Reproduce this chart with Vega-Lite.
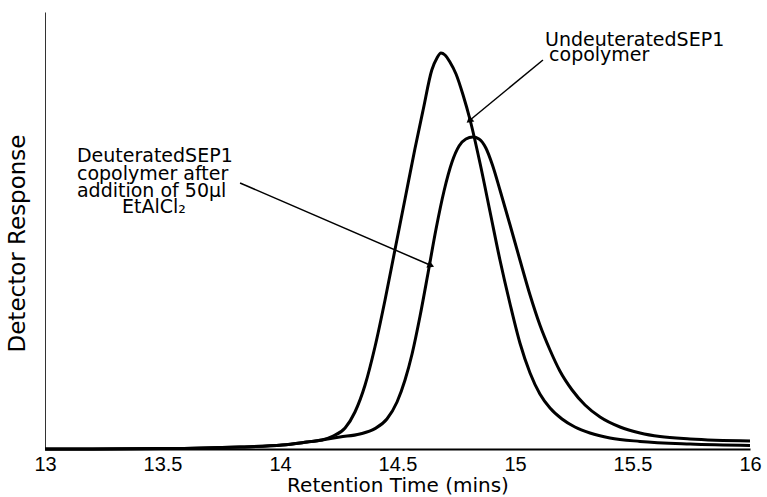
{
  "$schema": "https://vega.github.io/schema/vega-lite/v6.json",
  "width": 705,
  "height": 437,
  "autosize": "none",
  "padding": {"left": 45, "top": 12, "right": 17, "bottom": 48},
  "background": "white",
  "config": {"view": {"stroke": null}},
  "datasets": {
    "curves": [
      {"series": "Undeuterated", "t": 13.0, "v": 0},
      {"series": "Undeuterated", "t": 13.506, "v": 0.1},
      {"series": "Undeuterated", "t": 13.83, "v": 0.5},
      {"series": "Undeuterated", "t": 14.009, "v": 1.0},
      {"series": "Undeuterated", "t": 14.115, "v": 1.75},
      {"series": "Undeuterated", "t": 14.179, "v": 2.25},
      {"series": "Undeuterated", "t": 14.226, "v": 3.25},
      {"series": "Undeuterated", "t": 14.277, "v": 5.25},
      {"series": "Undeuterated", "t": 14.319, "v": 9.25},
      {"series": "Undeuterated", "t": 14.362, "v": 16},
      {"series": "Undeuterated", "t": 14.404, "v": 25.5},
      {"series": "Undeuterated", "t": 14.447, "v": 37.25},
      {"series": "Undeuterated", "t": 14.489, "v": 49.75},
      {"series": "Undeuterated", "t": 14.532, "v": 62.5},
      {"series": "Undeuterated", "t": 14.574, "v": 75},
      {"series": "Undeuterated", "t": 14.609, "v": 84.75},
      {"series": "Undeuterated", "t": 14.646, "v": 94.75},
      {"series": "Undeuterated", "t": 14.668, "v": 97.75},
      {"series": "Undeuterated", "t": 14.685, "v": 99},
      {"series": "Undeuterated", "t": 14.702, "v": 98.5},
      {"series": "Undeuterated", "t": 14.723, "v": 96.75},
      {"series": "Undeuterated", "t": 14.749, "v": 93.75},
      {"series": "Undeuterated", "t": 14.779, "v": 88.5},
      {"series": "Undeuterated", "t": 14.809, "v": 82.25},
      {"series": "Undeuterated", "t": 14.851, "v": 71.5},
      {"series": "Undeuterated", "t": 14.894, "v": 59.25},
      {"series": "Undeuterated", "t": 14.936, "v": 47.25},
      {"series": "Undeuterated", "t": 14.979, "v": 36.25},
      {"series": "Undeuterated", "t": 15.021, "v": 26.5},
      {"series": "Undeuterated", "t": 15.064, "v": 19},
      {"series": "Undeuterated", "t": 15.106, "v": 13.75},
      {"series": "Undeuterated", "t": 15.149, "v": 10.25},
      {"series": "Undeuterated", "t": 15.2, "v": 7.5},
      {"series": "Undeuterated", "t": 15.255, "v": 5.5},
      {"series": "Undeuterated", "t": 15.319, "v": 4},
      {"series": "Undeuterated", "t": 15.404, "v": 2.75},
      {"series": "Undeuterated", "t": 15.532, "v": 1.9},
      {"series": "Undeuterated", "t": 15.745, "v": 1.25},
      {"series": "Undeuterated", "t": 16.0, "v": 0.9},
      {"series": "Deuterated", "t": 13.0, "v": 0},
      {"series": "Deuterated", "t": 13.506, "v": 0.1},
      {"series": "Deuterated", "t": 13.83, "v": 0.5},
      {"series": "Deuterated", "t": 14.009, "v": 1.0},
      {"series": "Deuterated", "t": 14.115, "v": 1.75},
      {"series": "Deuterated", "t": 14.179, "v": 2.25},
      {"series": "Deuterated", "t": 14.255, "v": 3.0},
      {"series": "Deuterated", "t": 14.34, "v": 3.75},
      {"series": "Deuterated", "t": 14.404, "v": 5.1},
      {"series": "Deuterated", "t": 14.455, "v": 7.5},
      {"series": "Deuterated", "t": 14.498, "v": 11.75},
      {"series": "Deuterated", "t": 14.532, "v": 17.25},
      {"series": "Deuterated", "t": 14.562, "v": 23.75},
      {"series": "Deuterated", "t": 14.596, "v": 33.25},
      {"series": "Deuterated", "t": 14.63, "v": 44},
      {"series": "Deuterated", "t": 14.664, "v": 55},
      {"series": "Deuterated", "t": 14.698, "v": 64.5},
      {"series": "Deuterated", "t": 14.732, "v": 71.75},
      {"series": "Deuterated", "t": 14.762, "v": 75.75},
      {"series": "Deuterated", "t": 14.791, "v": 77.5},
      {"series": "Deuterated", "t": 14.821, "v": 78},
      {"series": "Deuterated", "t": 14.847, "v": 77.5},
      {"series": "Deuterated", "t": 14.876, "v": 75.25},
      {"series": "Deuterated", "t": 14.904, "v": 71},
      {"series": "Deuterated", "t": 14.936, "v": 64.75},
      {"series": "Deuterated", "t": 14.979, "v": 56},
      {"series": "Deuterated", "t": 15.021, "v": 47.25},
      {"series": "Deuterated", "t": 15.064, "v": 38.5},
      {"series": "Deuterated", "t": 15.106, "v": 31},
      {"series": "Deuterated", "t": 15.149, "v": 24.75},
      {"series": "Deuterated", "t": 15.191, "v": 19.5},
      {"series": "Deuterated", "t": 15.243, "v": 14.75},
      {"series": "Deuterated", "t": 15.298, "v": 11},
      {"series": "Deuterated", "t": 15.362, "v": 8},
      {"series": "Deuterated", "t": 15.447, "v": 5.5},
      {"series": "Deuterated", "t": 15.532, "v": 4},
      {"series": "Deuterated", "t": 15.617, "v": 3.1},
      {"series": "Deuterated", "t": 15.745, "v": 2.5},
      {"series": "Deuterated", "t": 16.0, "v": 2.0}
    ],
    "arrows": [
      {"t": 15.119, "v": 97.25, "t2": 14.809, "v2": 82.25, "label": "Undeuterated"},
      {"t": 13.83, "v": 66.5, "t2": 14.638, "v2": 46, "label": "Deuterated"}
    ],
    "labels": [
      {"t": 15.128, "v": 100.75, "text": "UndeuteratedSEP1"},
      {"t": 15.145, "v": 97, "text": "copolymer"},
      {"t": 13.136, "v": 71.75, "text": "DeuteratedSEP1"},
      {"t": 13.136, "v": 67.25, "text": "copolymer after"},
      {"t": 13.136, "v": 63, "text": "addition of 50µl"},
      {"t": 13.328, "v": 59, "text": "EtAlCl₂"}
    ]
  },
  "layer": [
    {
      "data": {"name": "curves"},
      "mark": {"type": "line", "strokeWidth": 3, "interpolate": "monotone", "color": "black"},
      "encoding": {
        "x": {
          "field": "t", "type": "quantitative",
          "scale": {"domain": [13, 16], "nice": false, "zero": false},
          "axis": {
            "title": "Retention Time (mins)",
            "values": [13, 13.5, 14, 14.5, 15, 15.5, 16],
            "format": "~g",
            "grid": false, "ticks": false,
            "labelFlush": false,
            "labelFont": "Liberation Sans", "labelFontSize": 20, "labelColor": "black",
            "labelPadding": 5,
            "domainColor": "black", "domainWidth": 2,
            "titleFont": "DejaVu Sans", "titleFontSize": 20, "titleFontWeight": "normal",
            "titleColor": "black", "titlePadding": 1
          }
        },
        "y": {
          "field": "v", "type": "quantitative",
          "scale": {"domain": [0, 109.25], "nice": false},
          "axis": {
            "title": "Detector Response",
            "labels": false, "ticks": false, "grid": false,
            "domainColor": "#333", "domainWidth": 1,
            "titleFont": "DejaVu Sans", "titleFontSize": 23, "titleFontWeight": "normal",
            "titleColor": "black",
            "titleAngle": -90, "titleAlign": "center", "titleBaseline": "middle",
            "titleX": -28, "titleY": 231
          }
        },
        "detail": {"field": "series"}
      }
    },
    {
      "data": {"name": "arrows"},
      "mark": {"type": "rule", "strokeWidth": 1.5, "color": "black"},
      "encoding": {
        "x": {"field": "t", "type": "quantitative"},
        "y": {"field": "v", "type": "quantitative"},
        "x2": {"field": "t2"},
        "y2": {"field": "v2"}
      }
    },
    {
      "data": {"name": "arrows"},
      "transform": [{"filter": "datum.label == 'Undeuterated'"}],
      "mark": {"type": "point", "shape": "triangle", "filled": true, "color": "black", "size": 60, "angle": 230.6, "opacity": 1},
      "encoding": {
        "x": {"field": "t2", "type": "quantitative"},
        "y": {"field": "v2", "type": "quantitative"}
      }
    },
    {
      "data": {"name": "arrows"},
      "transform": [{"filter": "datum.label == 'Deuterated'"}],
      "mark": {"type": "point", "shape": "triangle", "filled": true, "color": "black", "size": 60, "angle": 113.3, "opacity": 1},
      "encoding": {
        "x": {"field": "t2", "type": "quantitative"},
        "y": {"field": "v2", "type": "quantitative"}
      }
    },
    {
      "data": {"name": "labels"},
      "mark": {"type": "text", "align": "left", "baseline": "alphabetic", "font": "DejaVu Sans", "fontSize": 19, "color": "black"},
      "encoding": {
        "x": {"field": "t", "type": "quantitative"},
        "y": {"field": "v", "type": "quantitative"},
        "text": {"field": "text"}
      }
    }
  ]
}
